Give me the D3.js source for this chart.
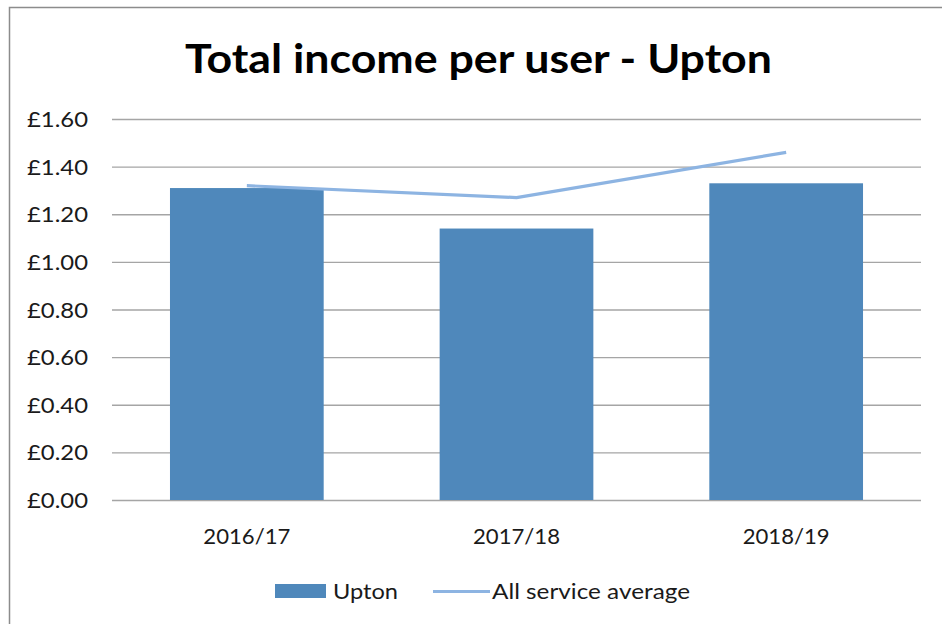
<!DOCTYPE html>
<html>
<head>
<meta charset="utf-8">
<script src="https://cdn.jsdelivr.net/npm/d3@7"></script>
<style>
  html, body { margin: 0; padding: 0; background: #fff; }
  svg { display: block; }
  text { font-family: Lato, "Open Sans", "Liberation Sans", sans-serif; fill: #1a1a1a; }
</style>
</head>
<body>
<svg id="chart" width="942" height="624"></svg>
<script>
const categories = ["2016/17", "2017/18", "2018/19"];
const uptonValues = [1.31, 1.14, 1.33];
const averageValues = [1.32, 1.27, 1.46];
const yTicks = [0, 0.2, 0.4, 0.6, 0.8, 1.0, 1.2, 1.4, 1.6];
const titleText = "Total income per user - Upton";
const seriesNames = ["Upton", "All service average"];

const svg = d3.select("#chart");
const W = 942, H = 624;
const plot = { left: 112, right: 921, top: 119, bottom: 500 };

const barColor = "#4f88bb";
const lineColor = "#8db4e2";
const gridColor = "#a5a5a5";

// frame
svg.append("path")
  .attr("d", `M9.5,${H} L9.5,7.5 L${W},7.5`)
  .attr("fill", "none").attr("stroke", "#8c8c8c").attr("stroke-width", 1.5);

// title
svg.append("text")
  .attr("x", 185).attr("y", 73)
  .attr("font-size", 40).attr("font-weight", "bold")
  .attr("textLength", 587).attr("lengthAdjust", "spacingAndGlyphs")
  .style("fill", "#000")
  .text(titleText);

const x = d3.scaleBand().domain(categories)
  .range([plot.left, plot.right])
  .paddingInner(0.43).paddingOuter(0.215);
const y = d3.scaleLinear().domain([0, 1.6]).range([plot.bottom, plot.top]);

const fmt = v => "£" + d3.format(".2f")(v);

// gridlines + y labels
const yAxis = d3.axisLeft(y).tickValues(yTicks).tickFormat(fmt)
  .tickSize(-(plot.right - plot.left)).tickPadding(24);
const gy = svg.append("g").attr("transform", `translate(${plot.left},0)`).call(yAxis);
gy.select(".domain").remove();
gy.selectAll(".tick line").attr("stroke", gridColor).attr("stroke-width", 1.4);
gy.selectAll(".tick text")
  .attr("font-size", 21)
  .attr("x", 88 - plot.left)
  .attr("dy", "0.36em")
  .attr("textLength", 61).attr("lengthAdjust", "spacingAndGlyphs")
  .style("fill", "#1a1a1a")
  .style("font-family", "Lato, 'Open Sans', sans-serif");

// bars
svg.append("g").selectAll("rect").data(categories).join("rect")
  .attr("x", d => x(d))
  .attr("width", x.bandwidth())
  .attr("y", (d, i) => y(uptonValues[i]))
  .attr("height", (d, i) => y(0) - y(uptonValues[i]))
  .attr("fill", barColor);

// average line
const line = d3.line()
  .x((d, i) => x(categories[i]) + x.bandwidth() / 2)
  .y(d => y(d));
svg.append("path").datum(averageValues)
  .attr("d", line)
  .attr("fill", "none").attr("stroke", lineColor)
  .attr("stroke-width", 3.2).attr("stroke-linejoin", "round");

// x axis labels
const xAxis = d3.axisBottom(x).tickSize(0).tickPadding(0);
const gx = svg.append("g").attr("transform", `translate(0,${plot.bottom})`).call(xAxis);
gx.select(".domain").remove();
gx.selectAll(".tick text")
  .attr("font-size", 22)
  .attr("y", 44).attr("dy", 0)
  .attr("textLength", 87).attr("lengthAdjust", "spacingAndGlyphs")
  .style("fill", "#1a1a1a")
  .style("font-family", "Lato, 'Open Sans', sans-serif");

// legend
const lg = svg.append("g");
lg.append("rect").attr("x", 275).attr("y", 584).attr("width", 51).attr("height", 14).attr("fill", barColor);
lg.append("text").attr("x", 333).attr("y", 599).attr("font-size", 22)
  .attr("textLength", 65).attr("lengthAdjust", "spacingAndGlyphs").text(seriesNames[0]);
lg.append("line").attr("x1", 433).attr("x2", 490).attr("y1", 591.5).attr("y2", 591.5)
  .attr("stroke", lineColor).attr("stroke-width", 3.2);
lg.append("text").attr("x", 492).attr("y", 599).attr("font-size", 22)
  .attr("textLength", 198).attr("lengthAdjust", "spacingAndGlyphs").text(seriesNames[1]);
</script>
</body>
</html>
